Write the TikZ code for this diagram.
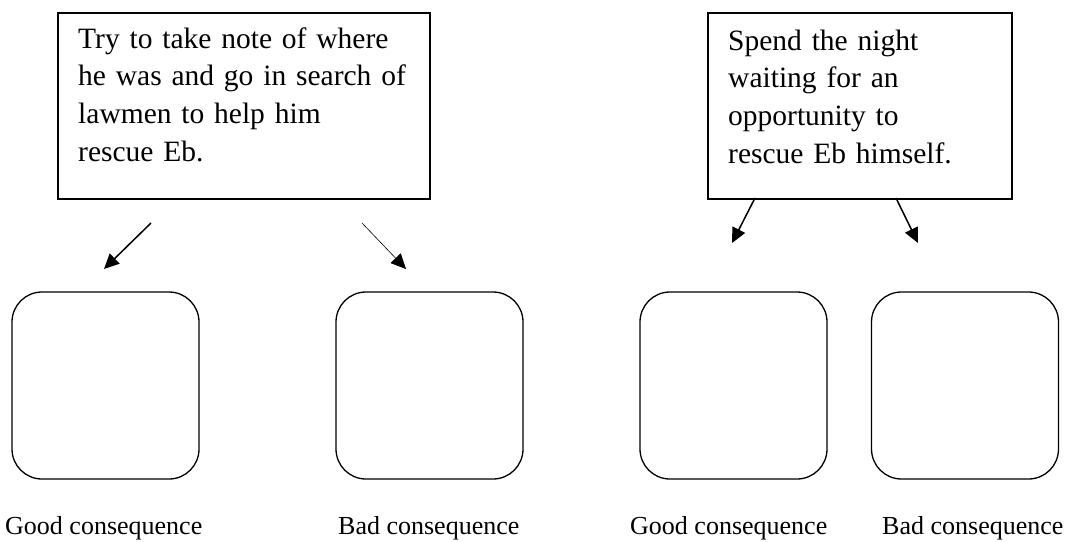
\documentclass[tikz,border=0pt]{standalone}
\usepackage{fontspec}
\setmainfont{Liberation Serif}
\usetikzlibrary{arrows.meta}
\tikzset{
  choicebox/.style={draw, line width=1.3pt, inner sep=0pt},
  choicetext/.style={anchor=base west, inner sep=0pt, align=left, text width=360pt,
    font=\fontsize{29.5}{37.7}\selectfont},
  consbox/.style={draw, line width=1.3pt, rounded corners=30pt, minimum width=187pt, minimum height=187pt, inner sep=0pt},
  conslabel/.style={anchor=base west, inner sep=0pt, font=\fontsize{26}{30}\selectfont},
  arr/.style={line width=1.5pt, -{Triangle[length=15pt,width=14pt]}},
  thinarr/.style={line width=0.6pt, -{Triangle[length=15pt,width=14pt]}}
}
\begin{document}
\begin{tikzpicture}[x=1pt,y=-1pt]
\useasboundingbox[fill=white] (0,0) rectangle (1068,541);
% top choice boxes
\node[choicebox, minimum width=372pt, minimum height=186pt] (c1) at (244,106) {};
\node[choicebox, minimum width=304pt, minimum height=186pt] (c2) at (860,106) {};
\node[choicetext] (t1) at (78,48) {Try to take note of where\\he was and go in search of\\lawmen to help him\\rescue Eb.};
\node[choicetext] (t2) at (728,50) {Spend the night\\waiting for an\\opportunity to\\rescue Eb himself.};
% consequence boxes
\node[consbox] (g1) at (105.5,385.5) {};
\node[consbox] (b1) at (429.5,385.5) {};
\node[consbox] (g2) at (733.5,385.5) {};
\node[consbox] (b2) at (965,385.5) {};
% labels
\node[conslabel] (lg1) at (5,534) {Good consequence};
\node[conslabel] (lb1) at (338,534) {Bad consequence};
\node[conslabel] (lg2) at (630,534) {Good consequence};
\node[conslabel] (lb2) at (882,534) {Bad consequence};
% arrows
\coordinate (a1s) at (151,223);
\coordinate (a1e) at (104,269);
\coordinate (a2s) at (362,223);
\coordinate (a2e) at (406,269);
\coordinate (a3s) at (755,198);
\coordinate (a3e) at (732,243);
\coordinate (a4s) at (896,198);
\coordinate (a4e) at (918,243);
\draw[arr] (a1s) -- (a1e);
\draw[thinarr] (a2s) -- (a2e);
\draw[arr] (a3s) -- (a3e);
\draw[arr] (a4s) -- (a4e);
\end{tikzpicture}
\end{document}
